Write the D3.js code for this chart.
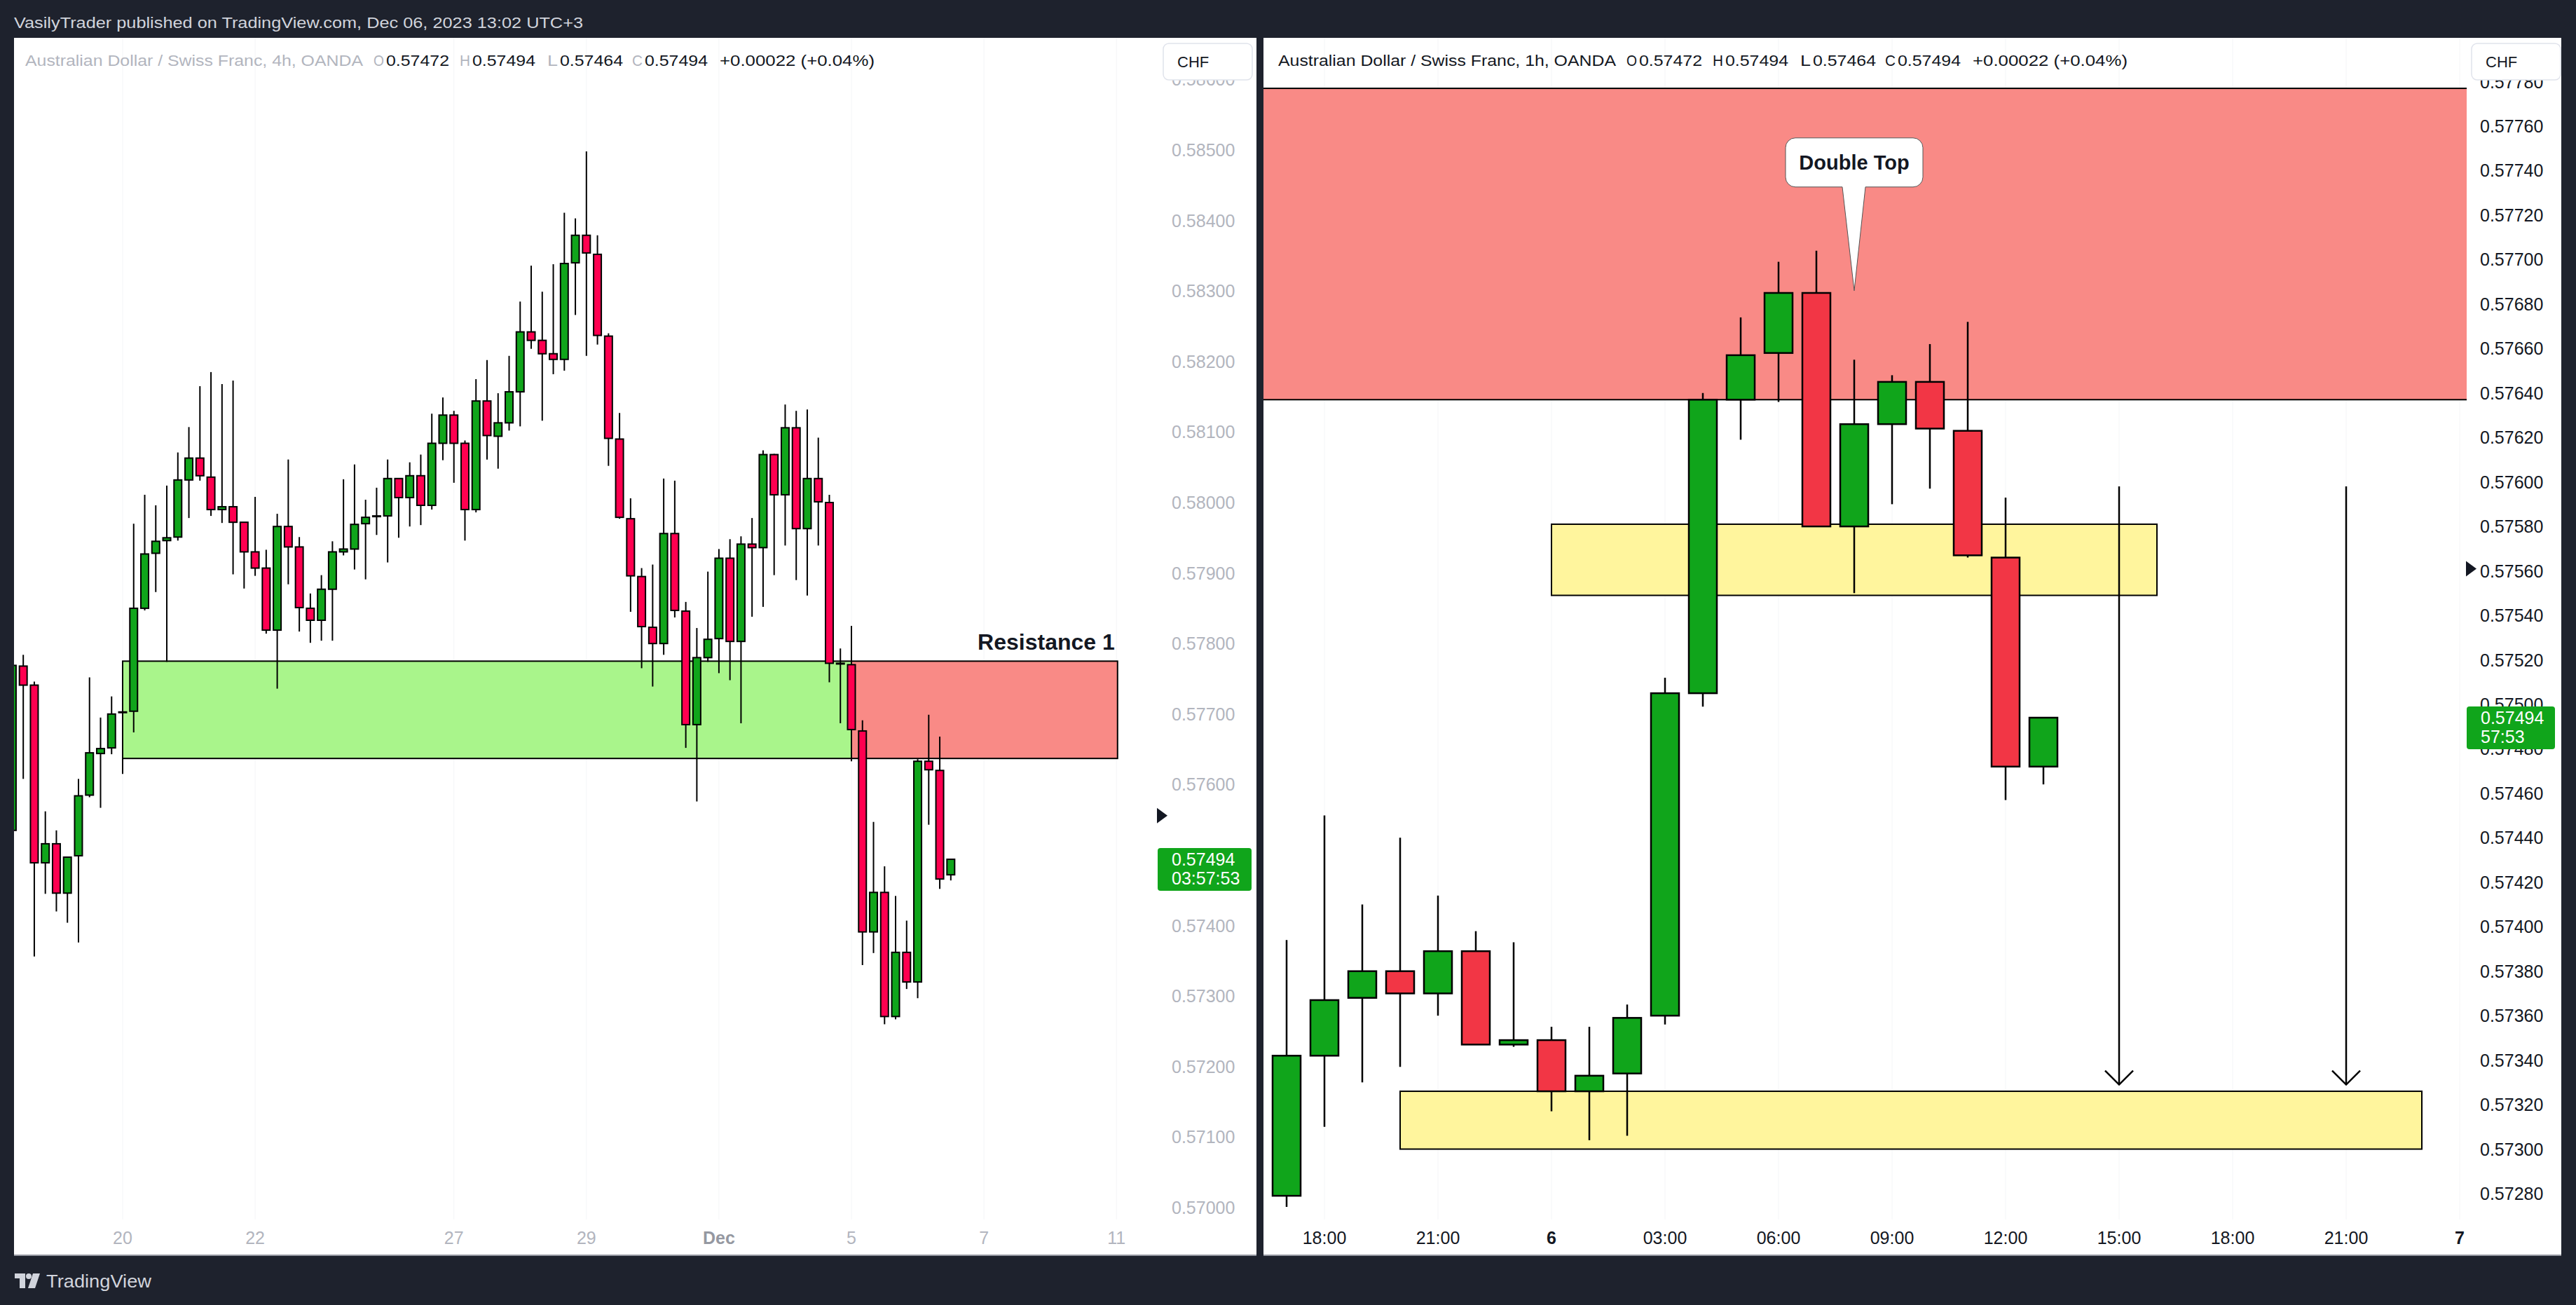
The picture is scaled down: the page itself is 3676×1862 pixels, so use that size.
<!DOCTYPE html>
<html><head><meta charset="utf-8">
<script src="https://cdn.jsdelivr.net/npm/d3@7"></script>
<style>html,body{margin:0;padding:0;background:#1e222d;overflow:hidden}svg{display:block}</style>
</head><body>
<script>
// ---------------- DATA ----------------
// Left chart: AUDCHF 4h, candle index 0 = Nov 20 00:00
const leftIndex = d3.range(-10, 76);
const leftOpen = [0.57535,0.57768,0.57741,0.57489,0.57516,0.57446,0.57499,0.57585,0.57644,0.57652,
0.57702,0.57704,0.57850,0.57928,0.57946,0.57951,0.58032,0.58063,0.58036,0.57990,
0.57994,0.57972,0.57930,0.57907,0.57819,0.57966,0.57937,0.57850,0.57833,0.57877,
0.57930,0.57934,0.57970,0.57981,0.57981,0.58034,0.58007,0.58038,0.57996,0.58084,
0.58124,0.58084,0.57990,0.58144,0.58094,0.58113,0.58157,0.58242,0.58230,0.58211,
0.58203,0.58340,0.58379,0.58352,0.58236,0.58090,0.57977,0.57895,0.57823,0.57800,
0.57956,0.57846,0.57685,0.57780,0.57807,0.57921,0.57803,0.57941,0.57936,0.58068,
0.58011,0.58106,0.57963,0.58034,0.58000,0.57772,0.57770,0.57676,0.57391,0.57447,
0.57271,0.57362,0.57320,0.57633,0.57620,0.57472];
const leftHigh = [0.57769,0.57784,0.57746,0.57562,0.57535,0.57497,0.57608,0.57752,0.57695,0.57725,
0.57705,0.57970,0.58011,0.57996,0.58024,0.58071,0.58107,0.58165,0.58185,0.58168,
0.58173,0.57972,0.58008,0.57933,0.57984,0.58061,0.57951,0.57871,0.57897,0.57945,
0.58033,0.58054,0.58004,0.58021,0.58061,0.58034,0.58057,0.58068,0.58126,0.58149,
0.58130,0.58088,0.58175,0.58202,0.58155,0.58208,0.58285,0.58336,0.58299,0.58338,
0.58411,0.58403,0.58498,0.58379,0.58240,0.58127,0.58006,0.57907,0.57912,0.58034,
0.58031,0.57859,0.57822,0.57902,0.57934,0.57948,0.57952,0.57978,0.58074,0.58069,
0.58139,0.58130,0.58132,0.58092,0.58011,0.57793,0.57825,0.57691,0.57547,0.57484,
0.57442,0.57407,0.57636,0.57699,0.57668,0.57494];
const leftLow = [0.57535,0.57608,0.57356,0.57445,0.57420,0.57404,0.57376,0.57582,0.57567,0.57643,
0.57615,0.57674,0.57847,0.57873,0.57774,0.57946,0.57978,0.58031,0.57981,0.57971,
0.57898,0.57878,0.57896,0.57814,0.57736,0.57884,0.57817,0.57801,0.57804,0.57804,
0.57925,0.57905,0.57891,0.57954,0.57915,0.57950,0.57966,0.57968,0.57990,0.58060,
0.58028,0.57946,0.57986,0.58061,0.58048,0.58102,0.58108,0.58218,0.58116,0.58182,
0.58187,0.58266,0.58208,0.58224,0.58052,0.57977,0.57845,0.57765,0.57739,0.57784,
0.57837,0.57652,0.57576,0.57774,0.57758,0.57748,0.57687,0.57838,0.57852,0.57897,
0.57939,0.57890,0.57868,0.57939,0.57745,0.57687,0.57633,0.57344,0.57361,0.57260,
0.57267,0.57310,0.57297,0.57543,0.57452,0.57464];
const leftClose = [0.57769,0.57741,0.57489,0.57516,0.57446,0.57497,0.57584,0.57645,0.57651,0.57700,
0.57703,0.57850,0.57927,0.57945,0.57950,0.58032,0.58063,0.58038,0.57990,0.57994,
0.57972,0.57930,0.57907,0.57819,0.57966,0.57937,0.57851,0.57833,0.57877,0.57930,
0.57934,0.57969,0.57979,0.57981,0.58034,0.58007,0.58038,0.57996,0.58084,0.58124,
0.58084,0.57990,0.58144,0.58095,0.58113,0.58157,0.58242,0.58230,0.58211,0.58203,
0.58339,0.58379,0.58354,0.58237,0.58091,0.57979,0.57896,0.57824,0.57800,0.57956,
0.57847,0.57685,0.57780,0.57806,0.57921,0.57803,0.57941,0.57936,0.58068,0.58011,
0.58106,0.57963,0.58034,0.58001,0.57772,0.57771,0.57678,0.57391,0.57447,0.57271,
0.57362,0.57320,0.57633,0.57621,0.57466,0.57494];
const leftTickIdx = [0,12,30,42,54,66,78,90];
const leftTickLabels = ["20","22","27","29","Dec","5","7","11"];
const leftPriceTicks = [0.570,0.571,0.572,0.573,0.574,0.575,0.576,0.577,0.578,0.579,0.580,0.581,0.582,0.583,0.584,0.585,0.586];
// zones: [fromIdx, toIdx, low, high]
const leftZones = [[0,66,0.57637,0.57775],[66,90.1,0.57637,0.57775]];
const leftZoneLabel = "Resistance 1";

// Right chart: AUDCHF 1h, hours counted from Dec 5 00:00
const rightHours = d3.range(17, 38);
const rightOpen = [0.57279,0.57342,0.57368,0.57380,0.57370,0.57389,0.57347,0.57349,0.57326,0.57334,0.57360,0.57505,0.57637,0.57658,0.57685,0.57580,0.57626,0.57645,0.57623,0.57566,0.57472];
const rightHigh = [0.57394,0.57450,0.57410,0.57440,0.57414,0.57398,0.57393,0.57355,0.57355,0.57365,0.57512,0.57640,0.57674,0.57699,0.57704,0.57655,0.57648,0.57662,0.57672,0.57593,0.57494];
const rightLow = [0.57274,0.57310,0.57330,0.57337,0.57360,0.57347,0.57346,0.57317,0.57304,0.57306,0.57356,0.57499,0.57619,0.57636,0.57580,0.57550,0.57590,0.57597,0.57566,0.57457,0.57464];
const rightClose = [0.57342,0.57367,0.57380,0.57370,0.57389,0.57347,0.57349,0.57326,0.57333,0.57359,0.57505,0.57637,0.57657,0.57685,0.57580,0.57626,0.57645,0.57624,0.57567,0.57472,0.57494];
const rightTickHours = [18,21,24,27,30,33,36,39,42,45,48];
const rightTickLabels = ["18:00","21:00","6","03:00","06:00","09:00","12:00","15:00","18:00","21:00","7"];
const rightPriceTicks = [0.5728,0.5730,0.5732,0.5734,0.5736,0.5738,0.5740,0.5742,0.5744,0.5746,0.5748,0.5750,0.5752,0.5754,0.5756,0.5758,0.5760,0.5762,0.5764,0.5766,0.5768,0.5770,0.5772,0.5774,0.5776,0.5778];
// zones: [fromHour, toHour, low, high]
const rightZones = [[16,50,0.57637,0.57777],[24,40,0.57549,0.57581],[20,47,0.57300,0.57326]];
// arrows: [hour, fromPrice, toPrice]
const rightArrows = [[39,0.57598,0.57329],[45,0.57598,0.57329]];
// callout tip: [hour, price]
const calloutTip = [32,0.57686];
const calloutText = "Double Top";

const lastPrice = 0.57494;
const headerText = "VasilyTrader published on TradingView.com, Dec 06, 2023 13:02 UTC+3";
const ohlcLabels = ["O","H","L","C"];
const ohlcValues = ["0.57472","0.57494","0.57464","0.57494"];
const changeText = "+0.00022 (+0.04%)";

// ---------------- DRAW ----------------
const W = 3676, H = 1862;
const FONT = "'Liberation Sans', Arial, sans-serif";
const svg = d3.select("body").append("svg").attr("width", W).attr("height", H)
  .style("font-family", FONT);
svg.append("rect").attr("width", W).attr("height", H).attr("fill", "#1e222d");

svg.append("text").attr("x", 20).attr("y", 32).attr("dominant-baseline", "central")
  .attr("font-size", 22).attr("fill", "#d1d4dc").attr("textLength", 812)
  .attr("lengthAdjust", "spacingAndGlyphs").text(headerText);

// panels
svg.append("rect").attr("x", 20).attr("y", 54).attr("width", 1773).attr("height", 1737).attr("fill", "#fff");
svg.append("rect").attr("x", 1803).attr("y", 54).attr("width", 1852).attr("height", 1737).attr("fill", "#fff");
svg.append("line").attr("x1", 20).attr("x2", 1793).attr("y1", 1791).attr("y2", 1791).attr("stroke", "#9598a1").attr("stroke-width", 2);
svg.append("line").attr("x1", 1803).attr("x2", 3655).attr("y1", 1791).attr("y2", 1791).attr("stroke", "#9598a1").attr("stroke-width", 2);

const defs = svg.append("defs");
defs.append("clipPath").attr("id", "clipL").append("rect").attr("x", 20).attr("y", 54).attr("width", 1630).attr("height", 1686);
defs.append("clipPath").attr("id", "clipR").append("rect").attr("x", 1803).attr("y", 54).attr("width", 1717).attr("height", 1686);

// scales
const xL = d3.scaleLinear().domain([0, 66]).range([175, 1215]);
const yL = d3.scaleLinear().domain([0.570, 0.585]).range([1723, 214]);
const xR = d3.scaleLinear().domain([24, 48]).range([2214, 3510]);
const yR = d3.scaleLinear().domain([0.5728, 0.5776]).range([1703, 180]);

function drawCandles(g, xs, ys, keys, O, Hi, Lo, C, bodyW, upCol, downCol, sw) {
  const data = keys.map((k, i) => ({k, o: O[i], h: Hi[i], l: Lo[i], c: C[i]}));
  g.selectAll("line.wick").data(data).join("line").attr("class", "wick")
    .attr("x1", d => xs(d.k)).attr("x2", d => xs(d.k))
    .attr("y1", d => ys(d.h)).attr("y2", d => ys(d.l))
    .attr("stroke", "#000").attr("stroke-width", sw);
  g.selectAll("rect.body").data(data).join("rect").attr("class", "body")
    .attr("x", d => xs(d.k) - bodyW / 2)
    .attr("y", d => ys(Math.max(d.o, d.c)))
    .attr("width", bodyW)
    .attr("height", d => Math.max(1, ys(Math.min(d.o, d.c)) - ys(Math.max(d.o, d.c))))
    .attr("fill", d => d.c >= d.o ? upCol : downCol)
    .attr("stroke", "#000").attr("stroke-width", sw);
}

// ===== LEFT PANEL =====
const gL = svg.append("g").attr("clip-path", "url(#clipL)");
gL.selectAll("line.grid").data(leftTickIdx).join("line").attr("class", "grid")
  .attr("x1", d => xL(d)).attr("x2", d => xL(d)).attr("y1", 54).attr("y2", 1740)
  .attr("stroke", "#f4f5f7").attr("stroke-width", 1);
const leftZoneFill = ["#a9f58b", "#f98a86"];
gL.selectAll("rect.zone").data(leftZones).join("rect").attr("class", "zone")
  .attr("x", d => xL(d[0])).attr("y", d => yL(d[3]))
  .attr("width", d => xL(d[1]) - xL(d[0])).attr("height", d => yL(d[2]) - yL(d[3]))
  .attr("fill", (d, i) => leftZoneFill[i]).attr("stroke", "#000").attr("stroke-width", 2);
drawCandles(gL.append("g"), xL, yL, leftIndex, leftOpen, leftHigh, leftLow, leftClose, 11, "#10a51b", "#ff0050", 2);
gL.append("text").attr("x", xL(leftZones[1][1]) - 4).attr("y", yL(leftZones[1][3]) - 16)
  .attr("text-anchor", "end").attr("font-size", 32).attr("font-weight", "bold").attr("fill", "#131722")
  .text(leftZoneLabel);

// left price axis
svg.append("g").selectAll("text").data(leftPriceTicks).join("text")
  .attr("x", 1672).attr("y", d => yL(d)).attr("dominant-baseline", "central")
  .attr("font-size", 25).attr("fill", "#b2b5be").text(d => d.toFixed(5));
// left time axis
svg.append("g").selectAll("text").data(leftTickIdx).join("text")
  .attr("x", d => xL(d)).attr("y", 1766).attr("text-anchor", "middle").attr("dominant-baseline", "central")
  .attr("font-size", 25).attr("fill", (d, i) => leftTickLabels[i] === "Dec" ? "#9598a1" : "#b2b5be")
  .attr("font-weight", (d, i) => leftTickLabels[i] === "Dec" ? "bold" : "normal")
  .text((d, i) => leftTickLabels[i]);

// ===== RIGHT PANEL =====
const gR = svg.append("g").attr("clip-path", "url(#clipR)");
gR.selectAll("line.grid").data(rightTickHours).join("line").attr("class", "grid")
  .attr("x1", d => xR(d)).attr("x2", d => xR(d)).attr("y1", 54).attr("y2", 1740)
  .attr("stroke", "#f4f5f7").attr("stroke-width", 1);
const rightZoneFill = ["#f98a86", "#fff59d", "#fff59d"];
gR.selectAll("rect.zone").data(rightZones).join("rect").attr("class", "zone")
  .attr("x", d => xR(d[0])).attr("y", d => yR(d[3]))
  .attr("width", d => xR(d[1]) - xR(d[0])).attr("height", d => yR(d[2]) - yR(d[3]))
  .attr("fill", (d, i) => rightZoneFill[i]).attr("stroke", "#000").attr("stroke-width", 2);
drawCandles(gR.append("g"), xR, yR, rightHours, rightOpen, rightHigh, rightLow, rightClose, 40, "#10a51b", "#f23645", 2.5);

// arrows
const ga = gR.append("g").attr("stroke", "#000").attr("stroke-width", 2.5).attr("fill", "none");
ga.selectAll("line").data(rightArrows).join("line")
  .attr("x1", d => xR(d[0])).attr("x2", d => xR(d[0]))
  .attr("y1", d => yR(d[1])).attr("y2", d => yR(d[2]));
ga.selectAll("path").data(rightArrows).join("path")
  .attr("d", d => {
    const x = xR(d[0]), y = yR(d[2]);
    return `M${x - 20},${y - 20} L${x},${y} L${x + 20},${y - 20}`;
  });

// callout
{
  const tx = xR(calloutTip[0]), ty = yR(calloutTip[1]);
  const bx0 = tx - 98, bx1 = tx + 98, by0 = ty - 218, by1 = ty - 148, r = 14;
  const p = d3.path();
  p.moveTo(bx0 + r, by0);
  p.lineTo(bx1 - r, by0); p.arcTo(bx1, by0, bx1, by0 + r, r);
  p.lineTo(bx1, by1 - r); p.arcTo(bx1, by1, bx1 - r, by1, r);
  p.lineTo(tx + 16, by1); p.lineTo(tx, ty); p.lineTo(tx - 17, by1);
  p.lineTo(bx0 + r, by1); p.arcTo(bx0, by1, bx0, by1 - r, r);
  p.lineTo(bx0, by0 + r); p.arcTo(bx0, by0, bx0 + r, by0, r);
  p.closePath();
  gR.append("path").attr("d", p.toString()).attr("fill", "#fff").attr("stroke", "#555").attr("stroke-width", 1);
  gR.append("text").attr("x", tx).attr("y", (by0 + by1) / 2).attr("text-anchor", "middle")
    .attr("dominant-baseline", "central").attr("font-size", 29).attr("font-weight", "bold")
    .attr("fill", "#131722").text(calloutText);
}

// right price axis
svg.append("g").selectAll("text").data(rightPriceTicks).join("text")
  .attr("x", 3539).attr("y", d => yR(d)).attr("dominant-baseline", "central")
  .attr("font-size", 25).attr("fill", "#131722").text(d => d.toFixed(5));
// right time axis
svg.append("g").selectAll("text").data(rightTickHours).join("text")
  .attr("x", d => xR(d)).attr("y", 1766).attr("text-anchor", "middle").attr("dominant-baseline", "central")
  .attr("font-size", 25).attr("fill", "#131722")
  .attr("font-weight", (d, i) => rightTickLabels[i].length === 1 ? "bold" : "normal")
  .text((d, i) => rightTickLabels[i]);

// price labels + markers
function priceBox(x0, x1, y, line2) {
  svg.append("rect").attr("x", x0).attr("y", y - 16).attr("width", x1 - x0).attr("height", 61)
    .attr("rx", 4).attr("fill", "#10a51b");
  svg.append("text").attr("x", x0 + 20).attr("y", y).attr("dominant-baseline", "central")
    .attr("font-size", 25).attr("fill", "#fff").text(lastPrice.toFixed(5));
  svg.append("text").attr("x", x0 + 20).attr("y", y + 27).attr("dominant-baseline", "central")
    .attr("font-size", 25).attr("fill", "#fff").text(line2);
}
priceBox(1652, 1786, yL(lastPrice), "03:57:53");
priceBox(3520, 3646, yR(lastPrice), "57:53");
svg.append("path").attr("d", `M1651,${yL(0.57556) - 11} L1666,${yL(0.57556)} L1651,${yL(0.57556) + 11} Z`).attr("fill", "#131722");
svg.append("path").attr("d", `M3519,${yR(0.57561) - 11} L3534,${yR(0.57561)} L3519,${yR(0.57561) + 11} Z`).attr("fill", "#131722");

// CHF buttons
[[1660, 1680], [3527, 3547]].forEach(([bx, tx]) => {
  svg.append("rect").attr("x", bx).attr("y", 62).attr("width", 127).attr("height", 52).attr("rx", 8)
    .attr("fill", "#fff").attr("stroke", "#e0e3eb").attr("stroke-width", 1.5);
  svg.append("text").attr("x", tx).attr("y", 88).attr("dominant-baseline", "central")
    .attr("font-size", 22).attr("fill", "#131722").text("CHF");
});

// titles
function title(x0, interval, dim) {
  const grey = dim ? "#b2b5be" : "#131722";
  const y = 86;
  const t = (x, txt, col, len) => svg.append("text").attr("x", x).attr("y", y).attr("dominant-baseline", "central")
    .attr("font-size", 22).attr("fill", col).attr("textLength", len).attr("lengthAdjust", "spacingAndGlyphs").text(txt);
  t(x0, `Australian Dollar / Swiss Franc, ${interval}, OANDA`, grey, 482);
  const offs = [497, 620, 745, 866];
  ohlcLabels.forEach((l, i) => {
    t(x0 + offs[i], l, grey, 15);
    t(x0 + offs[i] + 18, ohlcValues[i], "#131722", 90);
  });
  t(x0 + 991, changeText, "#131722", 221);
}
title(36, "4h", true);
title(1824, "1h", false);

// TradingView footer
svg.append("path").attr("d", "M21,1817 H36 V1838 H28 V1824 H21 Z").attr("fill", "#d1d4dc");
svg.append("circle").attr("cx", 41).attr("cy", 1821).attr("r", 4).attr("fill", "#d1d4dc");
svg.append("path").attr("d", "M47,1817 H57 L50,1838 H40 Z").attr("fill", "#d1d4dc");
svg.append("text").attr("x", 66).attr("y", 1828).attr("dominant-baseline", "central")
  .attr("font-size", 26).attr("fill", "#d1d4dc").attr("textLength", 150).attr("lengthAdjust", "spacingAndGlyphs").text("TradingView");
</script>
</body></html>
